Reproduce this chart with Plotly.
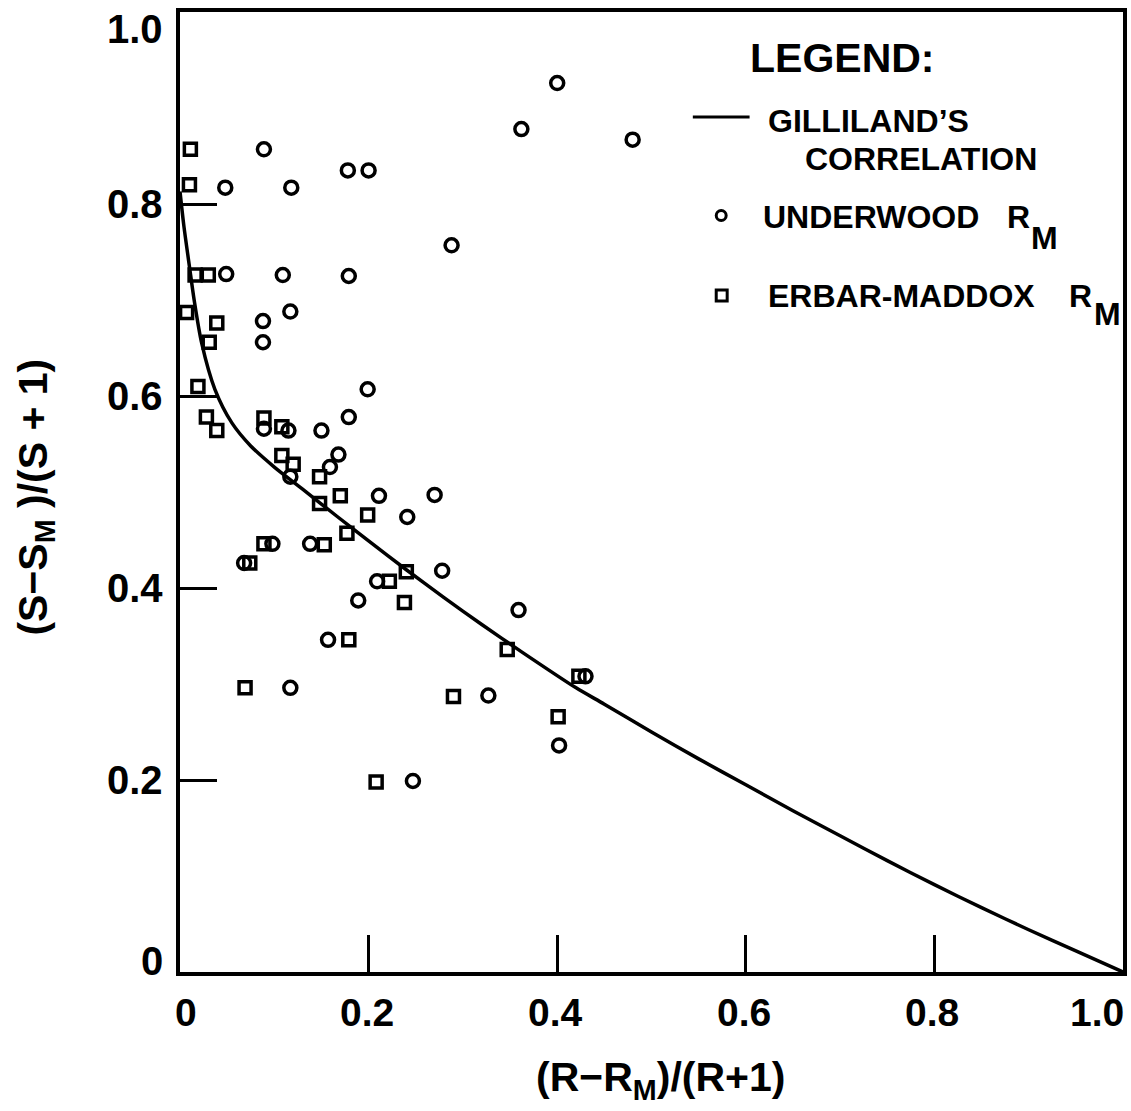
import plotly.graph_objects as go

# ---- data -------------------------------------------------------------
# Gilliland's correlation, (R-Rm)/(R+1) vs (S-Sm)/(S+1)
gill_x = [0.0, 0.004, 0.010, 0.015, 0.023, 0.037, 0.055, 0.075, 0.100, 0.130,
          0.166, 0.200, 0.240, 0.280, 0.320, 0.360, 0.420, 0.450, 0.500, 0.550,
          0.600, 0.650, 0.700, 0.750, 0.800, 0.850, 0.900, 0.950, 1.0]
gill_y = [0.813, 0.778, 0.735, 0.700, 0.655, 0.607, 0.572, 0.548, 0.526, 0.503,
          0.475, 0.449, 0.419, 0.390, 0.362, 0.335, 0.296, 0.279, 0.250, 0.222,
          0.195, 0.168, 0.142, 0.116, 0.091, 0.067, 0.044, 0.022, 0.0]

# Underwood minimum reflux
under_x = [0.089, 0.178, 0.200, 0.048, 0.118, 0.288, 0.049, 0.109, 0.179, 0.117,
           0.088, 0.088, 0.199, 0.089, 0.115, 0.150, 0.179, 0.168, 0.159, 0.117,
           0.211, 0.270, 0.241, 0.098, 0.138, 0.068, 0.278, 0.209, 0.189, 0.157,
           0.117, 0.327, 0.359, 0.430, 0.402, 0.247, 0.400, 0.362, 0.480]
under_y = [0.857, 0.835, 0.835, 0.817, 0.817, 0.757, 0.727, 0.726, 0.725, 0.688,
           0.678, 0.656, 0.607, 0.566, 0.564, 0.564, 0.578, 0.539, 0.526, 0.516,
           0.496, 0.497, 0.474, 0.446, 0.446, 0.426, 0.418, 0.407, 0.387, 0.346,
           0.296, 0.288, 0.377, 0.308, 0.236, 0.199, 0.926, 0.878, 0.867]

# Erbar-Maddox minimum reflux
erbar_x = [0.011, 0.010, 0.016, 0.030, 0.007, 0.039, 0.031, 0.019, 0.028, 0.039,
           0.089, 0.108, 0.108, 0.120, 0.148, 0.170, 0.148, 0.199, 0.177, 0.089,
           0.153, 0.074, 0.240, 0.222, 0.238, 0.179, 0.069, 0.290, 0.347, 0.423,
           0.401, 0.208]
erbar_y = [0.857, 0.820, 0.726, 0.726, 0.687, 0.676, 0.656, 0.610, 0.578, 0.564,
           0.577, 0.568, 0.538, 0.529, 0.516, 0.496, 0.488, 0.476, 0.457, 0.446,
           0.445, 0.426, 0.417, 0.407, 0.385, 0.346, 0.296, 0.287, 0.336, 0.308,
           0.266, 0.198]

x_ticks = [0.0, 0.2, 0.4, 0.6, 0.8, 1.0]
x_tick_text = ["0", "0.2", "0.4", "0.6", "0.8", "1.0"]
y_ticks = [0.0, 0.2, 0.4, 0.6, 0.8, 1.0]
y_tick_text = ["0", "0.2", "0.4", "0.6", "0.8", "1.0"]

# ---- styling ----------------------------------------------------------
W, H = 1131, 1111
ML, MR, MT, MB = 180, 4, 12, 139
FONT = "Liberation Sans, Arial, Helvetica, sans-serif"
INK = "black"


def px(xp):
    """screen x (px) -> paper x"""
    return (xp - ML) / (W - ML - MR)


def py(yp):
    """screen y (px) -> paper y"""
    return (H - MB - yp) / (H - MT - MB)


fig = go.Figure()

fig.add_trace(go.Scatter(x=gill_x, y=gill_y, mode="lines",
                         line=dict(color=INK, width=3.5, shape="spline", smoothing=0.8),
                         showlegend=False, hoverinfo="skip"))
fig.add_trace(go.Scatter(x=under_x, y=under_y, mode="markers",
                         marker=dict(symbol="circle-open", size=13, color=INK,
                                     line=dict(width=3.5, color=INK)),
                         showlegend=False))
fig.add_trace(go.Scatter(x=erbar_x, y=erbar_y, mode="markers",
                         marker=dict(symbol="square-open", size=12, color=INK,
                                     line=dict(width=3.5, color=INK)),
                         showlegend=False))

axis_common = dict(showgrid=False, zeroline=False, showline=True, linewidth=4,
                   linecolor=INK, mirror=True, ticks="inside", ticklen=37,
                   tickwidth=3, tickcolor=INK, showticklabels=False)
fig.update_xaxes(range=[0, 1.0], tickvals=x_ticks[1:-1], **axis_common)
fig.update_yaxes(range=[0, 1.0], tickvals=y_ticks[1:-1], **axis_common)

ann = []
xtick_font = dict(family=FONT, size=39, color=INK, weight="bold")
ytick_font = dict(family=FONT, size=40, color=INK, weight="bold")

# x tick labels
for i, (v, t) in enumerate(zip(x_ticks, x_tick_text)):
    shift = 6 if i == 0 else (-26 if i == len(x_ticks) - 1 else -2)
    ann.append(dict(x=v, y=0, xref="x", yref="paper", text=t, showarrow=False,
                    xanchor="center", yanchor="middle", xshift=shift, yshift=-40,
                    font=xtick_font))
# y tick labels
for i, (v, t) in enumerate(zip(y_ticks, y_tick_text)):
    shift = 11 if i == 0 else (-17 if i == len(y_ticks) - 1 else 0)
    ann.append(dict(x=0, y=v, xref="paper", yref="y", text=t, showarrow=False,
                    xanchor="right", yanchor="middle", xshift=-15, yshift=shift,
                    font=ytick_font))

title_font = dict(family=FONT, size=41, color=INK, weight="bold")
ann.append(dict(x=px(663), y=py(1080), xref="paper", yref="paper",
                text="(R\u2212R<sub>M</sub>)/(R+1)", showarrow=False,
                xanchor="center", yanchor="middle", font=title_font))
ann.append(dict(x=px(35), y=py(497), xref="paper", yref="paper",
                text="(S\u2212S<sub>M</sub> )/(S + 1)", showarrow=False, textangle=-90,
                xanchor="center", yanchor="middle", font=title_font))

# legend block
leg_big = dict(family=FONT, size=41, color=INK, weight="bold")
leg_font = dict(family=FONT, size=32, color=INK, weight="bold")
ann.append(dict(x=px(750), y=py(58), xref="paper", yref="paper", text="LEGEND:",
                showarrow=False, xanchor="left", yanchor="middle", font=leg_big))
ann.append(dict(x=px(768), y=py(121), xref="paper", yref="paper", text="GILLILAND\u2019S",
                showarrow=False, xanchor="left", yanchor="middle", font=leg_font))
ann.append(dict(x=px(806), y=py(159), xref="paper", yref="paper", text="CORRELATION",
                showarrow=False, xanchor="left", yanchor="middle", font=leg_font))
ann.append(dict(x=px(763), y=py(217), xref="paper", yref="paper", text="UNDERWOOD",
                showarrow=False, xanchor="left", yanchor="middle", font=leg_font))
ann.append(dict(x=px(1008), y=py(217), xref="paper", yref="paper", text="R",
                showarrow=False, xanchor="left", yanchor="middle", font=leg_font))
ann.append(dict(x=px(1033), y=py(238), xref="paper", yref="paper", text="M",
                showarrow=False, xanchor="left", yanchor="middle", font=leg_font))
ann.append(dict(x=px(768), y=py(296), xref="paper", yref="paper", text="ERBAR-MADDOX",
                showarrow=False, xanchor="left", yanchor="middle", font=leg_font))
ann.append(dict(x=px(1071), y=py(296), xref="paper", yref="paper", text="R",
                showarrow=False, xanchor="left", yanchor="middle", font=leg_font))
ann.append(dict(x=px(1096), y=py(314), xref="paper", yref="paper", text="M",
                showarrow=False, xanchor="left", yanchor="middle", font=leg_font))

shapes = [
    dict(type="line", xref="paper", yref="paper", x0=px(695), x1=px(752),
         y0=py(117), y1=py(117), line=dict(color=INK, width=3)),
    dict(type="circle", xref="paper", yref="paper", x0=px(718.5), x1=px(728.5),
         y0=py(220.5), y1=py(210.5), line=dict(color=INK, width=3)),
    dict(type="rect", xref="paper", yref="paper", x0=px(718.5), x1=px(729.5),
         y0=py(301), y1=py(290), line=dict(color=INK, width=3)),
]

fig.update_layout(width=W, height=H, margin=dict(l=ML, r=MR, t=MT, b=MB),
                  paper_bgcolor="white", plot_bgcolor="white",
                  annotations=ann, shapes=shapes, showlegend=False)

fig.write_html("out.html")
